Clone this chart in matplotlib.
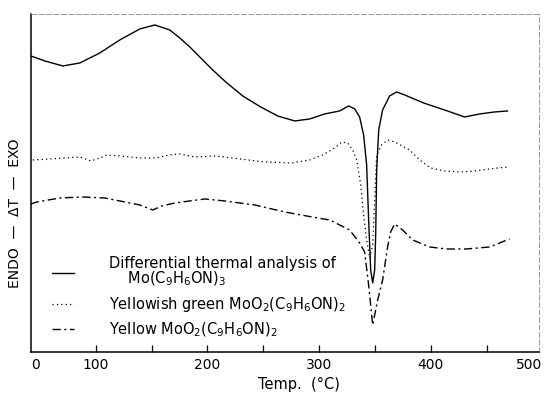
import numpy as np
import matplotlib
matplotlib.use("Agg")
import matplotlib.pyplot as plt

# DTA curves: temperature (deg C) and trace height (arbitrary units)
solid_t = [41.8, 54.3, 70.5, 85.7, 103.6, 121.5, 139.4, 152.8, 166.2, 175.2, 184.2, 193.1, 204.7,
           216.4, 231.6, 247.7, 262.9, 278.2, 291.6, 305.0, 318.4, 326.5, 331.9, 336.3, 339.9,
           342.6, 344.4, 346.2, 348.0, 349.8, 350.7, 351.6, 353.4, 356.9, 363.2, 369.5, 376.6,
           393.6, 412.4, 430.3, 443.8, 457.2, 468.8]
solid_h = [296, 291, 286, 289, 299, 312, 323, 327, 322, 314, 305, 295, 282,
           270, 256, 245, 236, 231, 233, 238, 241, 246, 243, 235, 217,
           187, 132, 82, 69, 82, 117, 182, 222, 242, 256, 260, 257,
           249, 242, 235, 238, 240, 241]

dotted_t = [43.6, 58.8, 72.2, 85.7, 95.5, 103.6, 109.8, 121.5, 139.4, 153.7, 166.2, 175.2,
            188.6, 207.4, 228.9, 251.3, 275.5, 291.6, 303.2, 314.0, 320.3, 325.6, 330.1, 333.7,
            337.3, 339.9, 342.6, 345.3, 348.0, 349.8, 351.6, 356.0, 361.4, 367.7, 381.1, 390.1,
            399.9, 412.4, 425.9, 439.3, 452.7, 468.8]
dotted_h = [192, 193, 194, 195, 191, 194, 197, 196, 194, 194, 197, 198,
            195, 196, 193, 190, 189, 192, 197, 204, 210, 209, 202, 192,
            167, 137, 112, 94, 107, 152, 197, 207, 212, 210, 202, 192,
            184, 181, 180, 181, 183, 185]

dashdot_t = [41.8, 47.2, 67.8, 87.5, 108.1, 126.0, 139.4, 151.0, 159.1, 170.7, 197.6, 215.5,
             242.4, 269.2, 298.7, 309.5, 327.4, 336.3, 340.8, 344.4, 348.0, 352.5, 356.9, 361.4,
             364.1, 367.7, 374.8, 383.8, 399.0, 414.2, 432.1, 452.7, 461.7, 470.6]
dashdot_h = [148, 150, 154, 155, 154, 150, 147, 142, 146, 149, 153, 151,
             147, 140, 134, 132, 122, 109, 100, 67, 27, 52, 72, 105,
             120, 128, 122, 112, 105, 103, 103, 105, 109, 113]

labels = ["Differential thermal analysis of\n    Mo(C$_9$H$_6$ON)$_3$",
          "Yellowish green MoO$_2$(C$_9$H$_6$ON)$_2$",
          "Yellow MoO$_2$(C$_9$H$_6$ON)$_2$"]

tick_pos = [46, 100, 150, 200, 250, 300, 350, 400, 450, 488]
tick_lab = ["0", "100", "", "200", "", "300", "", "400", "", "500"]

fig = plt.figure(figsize=(5.45, 3.94), dpi=100)
ax = fig.add_axes([0.057, 0.1066, 0.932, 0.858])

ax.plot(solid_t, solid_h, color="black", lw=1.0, label=labels[0])
ax.plot(dotted_t, dotted_h, color="black", lw=0.9, ls=(0, (1, 2.5)), label=labels[1])
ax.plot(dashdot_t, dashdot_h, color="black", lw=1.0, ls=(0, (6, 2.5, 1.5, 2.5)), label=labels[2])

ax.set_xlim(42, 497)
ax.set_ylim(0, 338)
ax.set_yticks([])
ax.set_xticks(tick_pos)
ax.set_xticklabels(tick_lab, fontsize=10)
ax.tick_params(axis="x", direction="in", length=5, width=0.9, pad=4)
for i in (0, len(tick_pos) - 1):
    ax.xaxis.get_major_ticks()[i].tick1line.set_visible(False)

ax.spines["bottom"].set_linewidth(1.1)
ax.spines["left"].set_linewidth(1.1)
for s in ("top", "right"):
    ax.spines[s].set_linewidth(0.6)
    ax.spines[s].set_color("#888888")
    ax.spines[s].set_linestyle((0, (6, 3)))

ax.set_xlabel("Temp.  (°C)", fontsize=10.5)
ax.xaxis.set_label_coords(0.528, -0.075)
ax.set_ylabel("ENDO  —  ΔT  —  EXO", fontsize=10)
ax.yaxis.set_label_coords(-0.018, 0.41)

leg = ax.legend(loc="lower left", bbox_to_anchor=(0.015, 0.0), frameon=False, fontsize=10.5,
                handlelength=1.5, handletextpad=2.4, labelspacing=0.45)
for t in leg.get_texts():
    t.set_linespacing(0.95)

fig.savefig("out.png", dpi=100)
